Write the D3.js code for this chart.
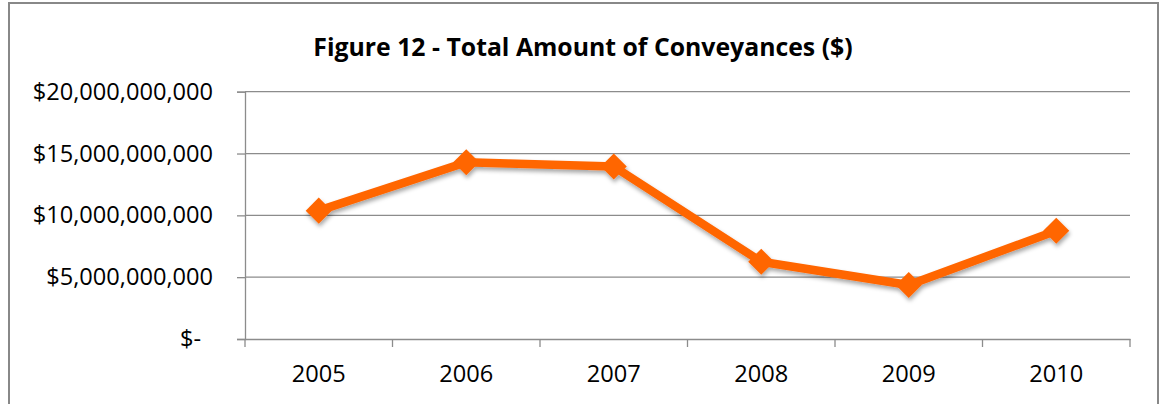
<!DOCTYPE html>
<html><head><meta charset="utf-8">
<script src="https://cdn.jsdelivr.net/npm/d3@7/dist/d3.min.js"></script>
<style>body{margin:0;background:#fff}svg{display:block}</style>
</head><body>
<script>
const years = ["2005","2006","2007","2008","2009","2010"];
const amounts = [10.38e9, 14.3e9, 13.95e9, 6.25e9, 4.37e9, 8.76e9];
const yTicks = [0, 5e9, 10e9, 15e9, 20e9];
const yTickLabels = ["$-", "$5,000,000,000", "$10,000,000,000", "$15,000,000,000", "$20,000,000,000"];
const title = "Figure 12 - Total Amount of Conveyances ($)";

const W = 1160, H = 404;
const svg = d3.select("body").append("svg").attr("width", W).attr("height", H);
const defs = svg.append("defs");
const f = defs.append("filter").attr("id","sh").attr("x","-20%").attr("y","-20%").attr("width","140%").attr("height","160%");
f.append("feDropShadow").attr("dx",1).attr("dy",3).attr("stdDeviation",2).attr("flood-color","#000").attr("flood-opacity",0.35);

// outer border
svg.append("rect").attr("x",9).attr("y",3).attr("width",1149).attr("height",H+10)
  .attr("fill","#fff").attr("stroke","#888").attr("stroke-width",2);

const pL = 245, pR = 1130, pT = 91.7, pB = 339;
const x = d3.scaleBand().domain(years).range([pL, pR]);
const y = d3.scaleLinear().domain([0, 20e9]).range([pB, pT]);
const font = "'Open Sans', sans-serif";
const gray = "#8c8c8c";

// gridlines
svg.append("g").selectAll("line").data(yTicks.filter(d=>d>0)).join("line")
  .attr("x1", pL).attr("x2", pR).attr("y1", d=>y(d)).attr("y2", d=>y(d))
  .attr("stroke", gray).attr("stroke-width", 1.3);

// y axis
const yAxis = svg.append("g").attr("transform", `translate(${pL},0)`)
  .call(d3.axisLeft(y).tickValues(yTicks).tickSize(8).tickPadding(24)
    .tickFormat((d,i)=>yTickLabels[i]));
yAxis.select(".domain").attr("stroke", gray).attr("stroke-width",1.3);
yAxis.selectAll(".tick line").attr("stroke", gray).attr("stroke-width",1.3);
yAxis.selectAll("text").attr("font-family", font).attr("font-size", 23.6).attr("fill","#000");
yAxis.selectAll(".tick").filter(d=>d===0).select("text").attr("dx", -12);

// x axis
const xAxis = svg.append("g").attr("transform", `translate(0,${pB})`)
  .call(d3.axisBottom(x).tickSize(0).tickPadding(26));
xAxis.select(".domain").attr("stroke", gray).attr("stroke-width",1.3);
xAxis.selectAll("text").attr("font-family", font).attr("font-size", 23.6).attr("fill","#000");
const bounds = years.map(d=>x(d)).concat([pR]);
svg.append("g").selectAll("line").data(bounds).join("line")
  .attr("x1", d=>d).attr("x2", d=>d).attr("y1", pB).attr("y2", pB+8)
  .attr("stroke", gray).attr("stroke-width",1.3);

// title
svg.append("text").attr("x", 583).attr("y", 56).attr("text-anchor","middle")
  .attr("font-family", font).attr("font-weight","bold").attr("font-size", 24.8)
  .attr("fill","#000").text(title);

// series
const cx = d => x(d) + x.bandwidth()/2;
const g = svg.append("g").attr("filter","url(#sh)");
const line = d3.line().x((d,i)=>cx(years[i])).y(d=>y(d));
g.append("path").datum(amounts).attr("d", line).attr("fill","none")
  .attr("stroke","#FF6600").attr("stroke-width",8.5).attr("stroke-linejoin","round");
g.selectAll("path.m").data(amounts).join("path").attr("class","m")
  .attr("d", d3.symbol().type(d3.symbolSquare).size(340))
  .attr("transform",(d,i)=>`translate(${cx(years[i])},${y(d)}) rotate(45)`)
  .attr("fill","#FF6600");
</script>
</body></html>
